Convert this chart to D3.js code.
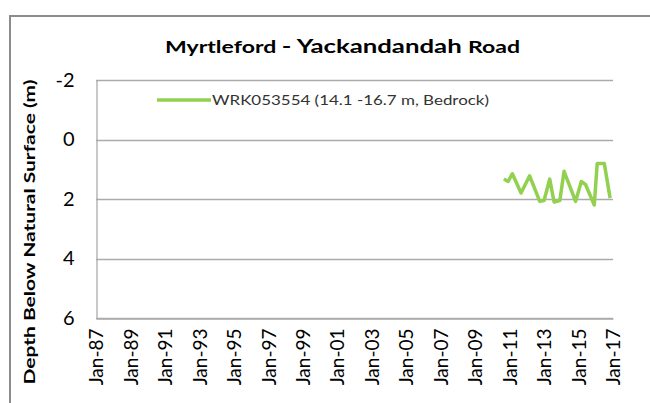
<!DOCTYPE html>
<meta charset="utf-8">
<script src="https://d3js.org/d3.v7.min.js"></script>
<style>
    body { margin: 0; background: #fff; }
    text { font-family: Lato, "Open Sans", sans-serif; fill: #000; }
</style>
<body>
<div id="my_dataviz"></div>
<script>
    // data (depth below natural surface, m)
    var dates = ["2010-09", "2010-12", "2011-03", "2011-09", "2012-03", "2012-10",
        "2013-01", "2013-05", "2013-08", "2013-12", "2014-03", "2014-11",
        "2015-03", "2015-06", "2015-12", "2016-02", "2016-07", "2016-11"];
    var depths = [1.33, 1.41, 1.15, 1.80, 1.22, 2.08,
        2.05, 1.33, 2.10, 2.05, 1.07, 2.08,
        1.41, 1.52, 2.20, 0.81, 0.81, 1.97];
    var seriesName = "WRK053554 (14.1 -16.7 m, Bedrock)";
    var xTickLabels = ["Jan-87", "Jan-89", "Jan-91", "Jan-93", "Jan-95", "Jan-97", "Jan-99", "Jan-01",
        "Jan-03", "Jan-05", "Jan-07", "Jan-09", "Jan-11", "Jan-13", "Jan-15", "Jan-17"];
    var yTicks = [-2, 0, 2, 4, 6];

    var width = 650, height = 403;
    var margin = { top: 80, right: 37, bottom: 85, left: 96 };

    var parseMonth = d3.timeParse("%Y-%m");
    var parseTick = d3.timeParse("%b-%y");
    var data = dates.map(function(d, i) {
        return { date: parseMonth(d), value: depths[i] };
    });
    var tickDates = xTickLabels.map(function(l) { return parseTick(l); });

    var svg = d3.select("#my_dataviz")
        .append("svg")
        .attr("width", width)
        .attr("height", height);

    // chart frame
    svg.append("rect")
        .attr("x", 10).attr("y", 16)
        .attr("width", 700).attr("height", 500)
        .attr("fill", "#fff")
        .attr("stroke", "#8c8c8c")
        .attr("stroke-width", 2);

    var x = d3.scaleTime()
        .domain([tickDates[0], tickDates[tickDates.length - 1]])
        .range([margin.left, width - margin.right]);

    var y = d3.scaleLinear()
        .domain([-2, 6])
        .range([margin.top, height - margin.bottom]);

    // gridlines
    svg.append("g")
        .selectAll("line")
        .data(yTicks)
        .enter().append("line")
        .attr("x1", margin.left)
        .attr("x2", width - margin.right)
        .attr("y1", function(d) { return Math.round(y(d)) + 0.5; })
        .attr("y2", function(d) { return Math.round(y(d)) + 0.5; })
        .attr("stroke", "#ababab")
        .attr("stroke-width", 1.3);

    // y axis
    var yAxis = svg.append("g")
        .attr("transform", "translate(" + (margin.left + 0.5) + ",0)")
        .call(d3.axisLeft(y).tickValues(yTicks).tickSize(0).tickPadding(22)
            .tickFormat(function(d) { return String(d); }));
    yAxis.select(".domain").attr("stroke", "#ababab").attr("stroke-width", 1.3);
    yAxis.selectAll("text").style("font-size", "20px");

    // x axis
    var xAxis = svg.append("g")
        .attr("transform", "translate(0," + (Math.round(y(6)) + 0.5) + ")")
        .call(d3.axisBottom(x).tickValues(tickDates).tickSize(0)
            .tickFormat(function(d, i) { return xTickLabels[i]; }));
    xAxis.select(".domain").attr("stroke", "#ababab").attr("stroke-width", 1.3);
    xAxis.selectAll("text")
        .attr("transform", "rotate(-90)")
        .attr("x", -10)
        .attr("y", 0)
        .attr("dy", "0.35em")
        .style("text-anchor", "end")
        .style("font-size", "19px");

    // the series line
    svg.append("path")
        .datum(data)
        .attr("fill", "none")
        .attr("stroke", "#92d050")
        .attr("stroke-width", 3.5)
        .attr("stroke-linejoin", "round")
        .attr("d", d3.line()
            .x(function(d) { return x(d.date); })
            .y(function(d) { return y(d.value); }));

    // legend
    svg.append("line")
        .attr("x1", 157).attr("x2", 211)
        .attr("y1", 100).attr("y2", 100)
        .attr("stroke", "#92d050")
        .attr("stroke-width", 3.5);
    svg.append("text")
        .attr("x", 212).attr("y", 105)
        .attr("textLength", 277)
        .attr("lengthAdjust", "spacingAndGlyphs")
        .style("font-size", "14px")
        .style("fill", "#333")
        .text(seriesName);

    // title
    var title = svg.append("text")
        .attr("x", 165).attr("y", 53)
        .attr("textLength", 355)
        .attr("lengthAdjust", "spacingAndGlyphs")
        .style("font-weight", "bold");
    title.append("tspan").style("font-size", "17px").text("Myrtleford ");
    title.append("tspan").style("font-size", "19px").text("- Yackandandah ");
    title.append("tspan").style("font-size", "17px").text("Road");

    // y axis title
    svg.append("text")
        .attr("transform", "translate(35," + 232 + ") rotate(-90)")
        .attr("text-anchor", "middle")
        .attr("textLength", 305)
        .attr("lengthAdjust", "spacingAndGlyphs")
        .style("font-size", "15px")
        .style("font-weight", "bold")
        .text("Depth Below Natural Surface (m)");
</script>
</body>
